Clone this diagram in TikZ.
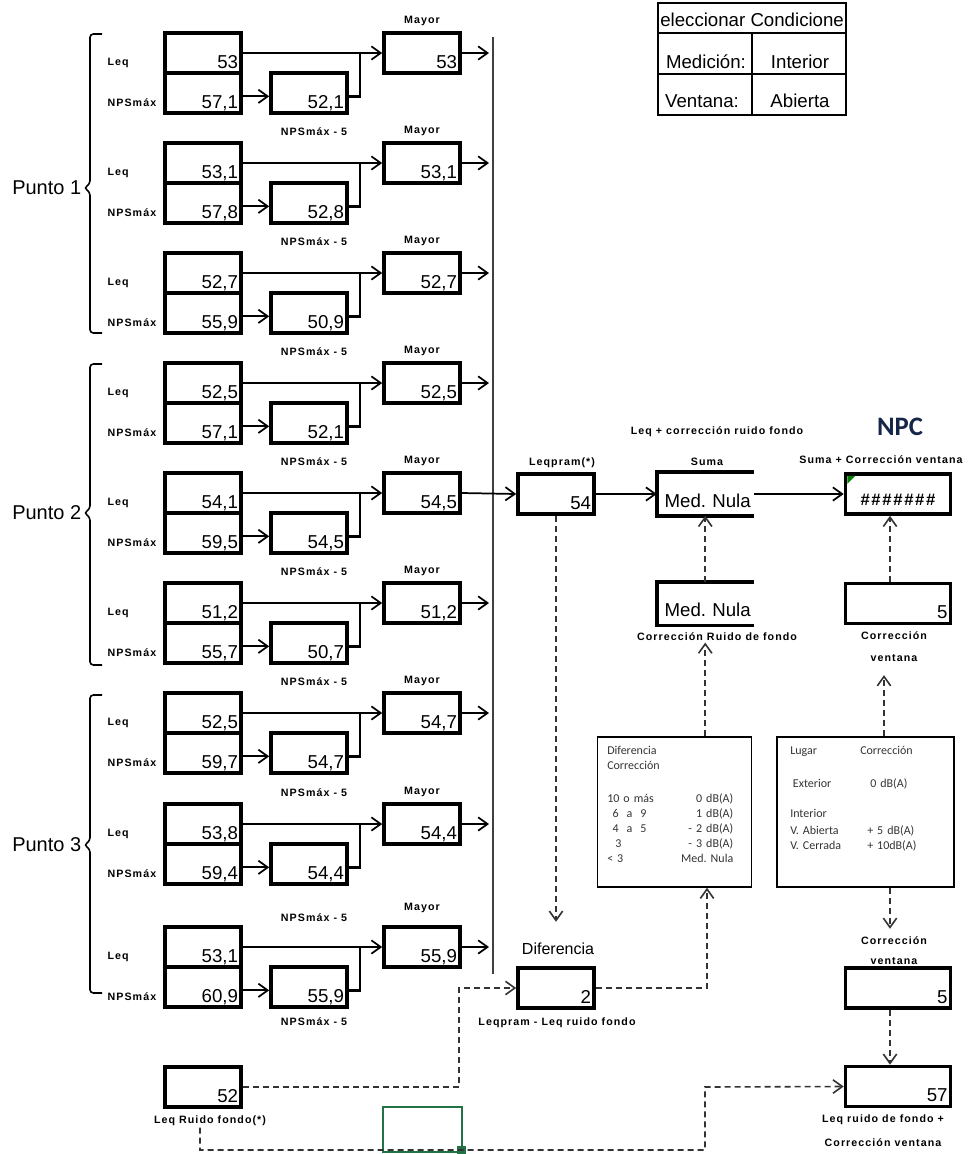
\documentclass[tikz,border=0pt]{standalone}
\usepackage{fontspec}
\setmainfont{Liberation Sans}
\newfontfamily\lblf[LetterSpace=10]{Liberation Sans}
\newfontfamily\hashf[LetterSpace=10]{Liberation Sans}
\newfontfamily\calf{Carlito}
\usetikzlibrary{arrows.meta}
\definecolor{npcblue}{RGB}{22,38,72}
\definecolor{xlgreen}{RGB}{33,115,70}
\definecolor{errgreen}{RGB}{0,128,0}
\tikzset{
  vb/.style={draw, line width=2.7pt, minimum width=57pt, minimum height=30pt,
    inner xsep=2.2pt, inner ysep=0pt, text width=52.6pt, align=right,
    text height=23pt, text depth=0pt, font=\fontsize{14pt}{16pt}\selectfont},
  wb/.style={vb, minimum width=78.75pt, text width=74.35pt},
  nb/.style={vb, draw=none, minimum width=70pt, text width=61pt, inner xsep=4.5pt,
    align=left, text height=19.5pt},
  sl/.style={font=\lblf\bfseries\fontsize{8pt}{9pt}\selectfont, inner sep=1pt},
  tt/.style={font=\fontsize{14pt}{16pt}\selectfont, inner sep=0pt},
  arr/.style={line width=1.3pt, -{Straight Barb[length=7pt,width=10pt,line width=1.3pt]}},
  ln/.style={line width=1.9pt},
  darr/.style={line width=1.2pt, black!80, dash pattern=on 4.5pt off 3pt,
    -{Straight Barb[length=7pt,width=10pt,line width=1.2pt]}},
  brc/.style={line width=1.2pt, rounded corners=2.5pt},
  tabtxt/.style={font=\calf\fontsize{9pt}{11.25pt}\selectfont, text=black!80, inner sep=0pt}
}
\newcommand\blk[6]{%
  \pgfmathsetmacro\blkya{#2+20}%
  \pgfmathsetmacro\blkyb{#2+60}%
  \node[vb] (leq#1) at (203,\blkya) {#3};
  \node[vb] (nps#1) at (203,\blkyb) {#4};
  \node[vb] (mid#1) at (309,\blkyb) {#5};
  \node[vb] (may#1) at (422,\blkya) {#6};
  \node[sl, anchor=west] (ll#1) at (106,\blkya+10) {Leq};
  \node[sl, anchor=west] (nl#1) at (106,\blkyb+10) {NPSmáx};
  \coordinate (j#1) at (360,\blkya);
  \draw[arr] (leq#1.east) -- (may#1.west);
  \draw[arr] ([yshift=-2.5pt]nps#1.east) -- ([yshift=-2.5pt]mid#1.west);
  \draw[ln] ([yshift=-2.5pt]mid#1.east) -| (j#1);
}
\newcommand\brc[3]{%
  \draw[brc] (102,#1) -- (90,#1) -- (90,#2-4) -- (84,#2) -- (90,#2+4) -- (90,#3) -- (102,#3);
}
\begin{document}
\begin{tikzpicture}[x=0.75pt,y=-0.75pt]
\useasboundingbox (0,0) rectangle (973,1154);

% ---------- left blocks ----------
\blk{1}{33}{53}{57,1}{52,1}{53}
\blk{2}{143}{53,1}{57,8}{52,8}{53,1}
\blk{3}{253}{52,7}{55,9}{50,9}{52,7}
\blk{4}{363}{52,5}{57,1}{52,1}{52,5}
\blk{5}{473}{54,1}{59,5}{54,5}{54,5}
\blk{6}{583}{51,2}{55,7}{50,7}{51,2}
\blk{7}{693}{52,5}{59,7}{54,7}{54,7}
\blk{8}{804}{53,8}{59,4}{54,4}{54,4}
\blk{9}{927}{53,1}{60,9}{55,9}{55,9}

\foreach \i/\t in {1/33,2/143,3/253,4/363,5/473,6/583,7/693,8/804}
  \node[sl] (my\i) at (422,\t-12) {Mayor};
\node[sl] (my9) at (422,908) {Mayor};
\foreach \i/\t in {2/143,3/253,4/363,5/473,6/583,7/693,8/804}
  \node[sl] (nm\i) at (314,\t-11) {NPSmáx - 5};
\node[sl] (nm9) at (314,918) {NPSmáx - 5};
\node[sl] (nm10) at (314,1022) {NPSmáx - 5};

% bus line and outputs
\coordinate (bt) at (493,37);
\coordinate (bb) at (493,974);
\draw[line width=1.4pt, black!75] (bt) -- (bb);
\coordinate (busx) at (489,0);
\foreach \i in {1,2,3,4,6,7,8,9}
  \draw[arr] (may\i.east) -- (may\i.east -| busx);

% braces and Punto labels
\brc{34}{188}{333}
\brc{364}{513}{665}
\brc{695}{845}{993}
\node[font=\fontsize{15pt}{17pt}\selectfont, anchor=west, inner sep=0pt] (p1) at (12,188) {Punto 1};
\node[font=\fontsize{15pt}{17pt}\selectfont, anchor=west, inner sep=0pt] (p2) at (12,513) {Punto 2};
\node[font=\fontsize{15pt}{17pt}\selectfont, anchor=west, inner sep=0pt] (p3) at (12,845) {Punto 3};

% ---------- top right table ----------
\draw[line width=1.1pt] (658,3) rectangle (846,115);
\draw[line width=1.1pt] (658,33) -- (846,33) (658,74) -- (846,74) (752,33) -- (752,115);
\node[tt, anchor=base west] (s1) at (660,26) {eleccionar Condicione};
\node[tt, anchor=base] (s2) at (706,68) {Medición:};
\node[tt, anchor=base] (s3) at (800,68) {Interior};
\node[tt, anchor=base] (s4) at (702,107) {Ventana:};
\node[tt, anchor=base] (s5) at (800,107) {Abierta};

% ---------- right side ----------
\node[vb] (lp) at (556,494) {54};
\node[sl] (lpl) at (562,463) {Leqpram(*)};
\draw[arr] (may5.east) -- (lp.west);

\node[nb] (suma) at (705.25,494) {\rlap{Med.\ Nula}};
\draw[line width=2.7pt] (suma.north east) -- (suma.north west) -- (suma.south west) -- (suma.south east);
\node[sl] (sumal) at (707,462) {Suma};
\node[sl] (lcrf) at (717,432) {Leq + corrección ruido fondo};

\node[wb, font=\hashf\bfseries\fontsize{12.5pt}{14pt}\selectfont, align=center, text height=16.5pt] (npc) at (898,494) {\#\#\#\#\#\#\#};
\fill[errgreen] ([xshift=2.7pt,yshift=-2.7pt]npc.north west) -- ++(6pt,0) -- ++(-6pt,-6pt) -- cycle;
\node[font=\calf\bfseries\fontsize{20pt}{22pt}\selectfont, text=npcblue] (npct) at (900,427) {NPC};
\node[sl] (scv) at (881,460) {Suma + Corrección ventana};

\draw[arr] (lp.east) -- (suma.west);
\draw[arr] (suma.east) -- (npc.west);

\node[nb] (crfb) at (705.25,603.5) {\rlap{Med.\ Nula}};
\draw[line width=2.7pt] (crfb.north east) -- (crfb.north west) -- (crfb.south west) -- (crfb.south east);
\node[sl] (crf) at (717,637) {Corrección Ruido de fondo};

\node[wb] (b5a) at (898,603.5) {5};
\node[sl] (cva1) at (894,636) {Corrección};
\node[sl] (cva2) at (894,658) {ventana};

% tables
\node[draw, line width=1.1pt, minimum width=115.5pt, minimum height=112.5pt, inner sep=0pt] (ltab) at (674.5,812) {};
\node[draw, line width=1.1pt, minimum width=132.75pt, minimum height=112.5pt, inner sep=0pt] (rtab) at (865.5,812) {};
\node[tabtxt, anchor=north west, text width=94.5pt, align=left] (ltxt) at (607,746)
  {Diferencia\\Corrección\\[13.5pt]10 o más\hfill 0 dB(A)\\
   \hspace*{4pt}6 \ a \ 9\hfill 1 dB(A)\\
   \hspace*{4pt}4 \ a \ 5\hfill - 2 dB(A)\\
   \hspace*{6pt}3\hfill - 3 dB(A)\\
   < 3\hfill Med.\ Nula};
\node[tabtxt, anchor=north west, text width=130pt, align=left] (rtxt) at (790,746)
  {\makebox[52.5pt][l]{Lugar}Corrección\\[13.5pt]
   \makebox[60pt][l]{\hspace*{2pt}Exterior}0 dB(A)\\[11.25pt]
   Interior\\[1.5pt]
   \makebox[57.75pt][l]{V. Abierta}+ 5 dB(A)\\
   \makebox[57.75pt][l]{V. Cerrada}+ 10dB(A)};

% lower right
\node[vb] (dif) at (556,988) {2};
\node[font=\fontsize{12pt}{13pt}\selectfont] (difl) at (558,949) {Diferencia};
\node[sl] (difc) at (557,1023) {Leqpram - Leq ruido fondo};

\node[sl] (cvb1) at (894,941) {Corrección};
\node[sl] (cvb2) at (894,961) {ventana};
\node[wb] (b5b) at (898,988) {5};
\node[wb] (b57) at (898,1086.5) {57};
\node[sl] (l57a) at (883,1120) {Leq ruido de fondo +};
\node[sl] (l57b) at (883,1143) {Corrección ventana};

\node[vb] (b52) at (203,1087) {52};
\node[sl] (lrf) at (210,1121) {Leq Ruido fondo(*)};

% green selection box
\draw[xlgreen, line width=2pt] (383,1107) rectangle (462,1152);
\fill[xlgreen] (457,1146) rectangle (466,1154);

% dashed connectors
\coordinate (ax) at (890,0);
\coordinate (rx) at (884,0);
\coordinate (c2) at (707,0);
\coordinate (c1) at (459,988);
\coordinate (c0) at (200,1150);
\coordinate (c4) at (705,1087);
\draw[darr] (crfb.north) -- (suma.south);
\draw[darr] (b5a.north -| ax) -- (npc.south -| ax);
\draw[darr] (ltab.north -| suma.south) -- (crf.south -| suma.south);
\draw[darr, shorten >=9pt] (rtab.north -| rx) -- (cva2.south -| rx);
\draw[darr, shorten >=12.5pt] (lp.south) -- (lp.south |- difl.north);
\draw[darr, shorten >=5pt] (rtab.south -| ax) -- (cvb1.north -| ax);
\draw[darr] (b5b.south -| ax) -- (b57.north -| ax);
\draw[darr] (dif.east) -| (ltab.south -| c2);
\draw[darr] (b52.east) -| (c1) -- (dif.west);
\draw[darr] (lrf.south -| c0) -- (c0) -| (c4) -- (b57.west);
\end{tikzpicture}
\end{document}
